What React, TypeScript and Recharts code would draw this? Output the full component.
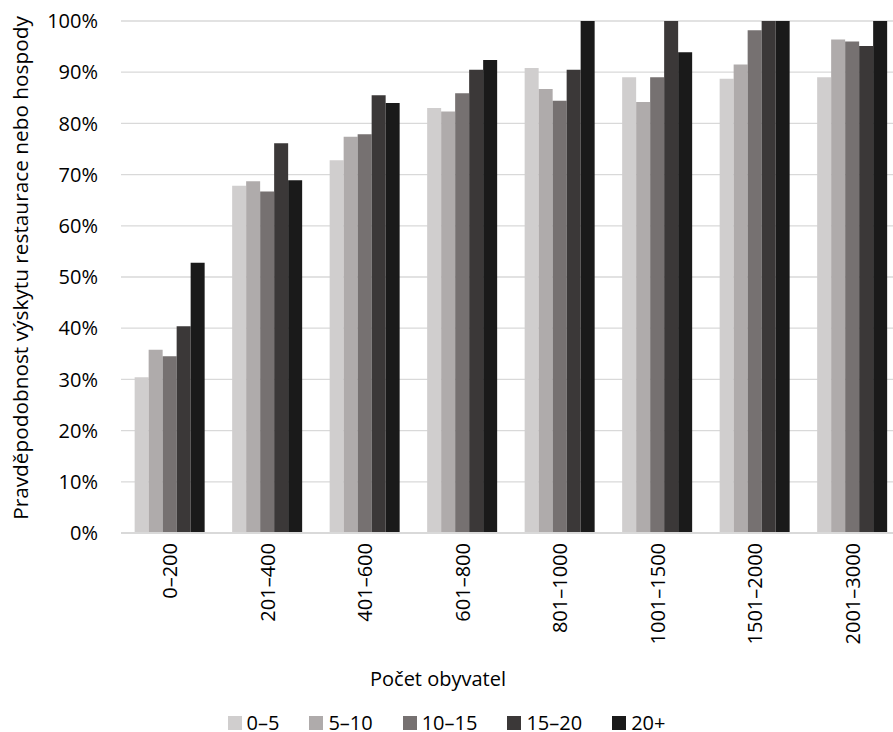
import { BarChart, Bar, XAxis, YAxis, CartesianGrid, Legend, Label } from 'recharts';

const categories = ['0–200', '201–400', '401–600', '601–800', '801–1000', '1001–1500', '1501–2000', '2001–3000'];
const seriesNames = ['0–5', '5–10', '10–15', '15–20', '20+'];

const v0to5 = [30.4, 67.8, 72.8, 83.0, 90.8, 89.0, 88.7, 89.0];
const v5to10 = [35.8, 68.7, 77.4, 82.3, 86.7, 84.2, 91.5, 96.4];
const v10to15 = [34.5, 66.7, 77.9, 85.9, 84.4, 89.0, 98.2, 96.0];
const v15to20 = [40.4, 76.1, 85.5, 90.5, 90.5, 100, 100, 95.1];
const v20plus = [52.8, 68.9, 84.0, 92.4, 100, 93.9, 100, 100];

const yTicks = [0, 10, 20, 30, 40, 50, 60, 70, 80, 90, 100];

const COLORS = ['#D0CECE', '#AFABAB', '#767171', '#3B3838', '#1A1A1A'];
const KEYS = ['a', 'b', 'c', 'd', 'e'];

const data = categories.map((name, i) => ({
  name,
  a: v0to5[i],
  b: v5to10[i],
  c: v10to15[i],
  d: v15to20[i],
  e: v20plus[i],
}));

const FONT = 20;

function XTick({ x, y, payload }: any) {
  return (
    <text
      x={0}
      y={0}
      transform={`translate(${x},${y + 2}) rotate(-90)`}
      textAnchor="end"
      dominantBaseline="central"
      fill="#000"
      fontSize={FONT}
    >
      {payload.value}
    </text>
  );
}

function LegendBox() {
  return (
    <div
      style={{
        height: 40,
        display: 'flex',
        justifyContent: 'center',
        alignItems: 'center',
        gap: 30,
        fontSize: FONT,
        color: '#000',
      }}
    >
      {seriesNames.map((n, i) => (
        <div key={n} style={{ display: 'flex', alignItems: 'center', height: 24 }}>
          <span style={{ width: 14, height: 14, background: COLORS[i], marginRight: 5, display: 'inline-block' }} />
          <span style={{ lineHeight: '24px' }}>{n}</span>
        </div>
      ))}
    </div>
  );
}

export default function App() {
  return (
    <div
      style={{
        position: 'absolute',
        left: 0,
        top: 0,
        width: 893,
        height: 732,
        overflow: 'hidden',
        fontFamily: '"Open Sans", sans-serif',
        background: '#fff',
      }}
    >
      <BarChart
        width={901}
        height={732}
        data={data}
        margin={{ top: 21, right: 0, left: 0, bottom: 0 }}
        barCategoryGap="14%"
        barGap={0}
      >
        <CartesianGrid vertical={false} stroke="#D9D9D9" strokeWidth={1.3} />
        <XAxis
          dataKey="name"
          height={159}
          tickLine={false}
          axisLine={{ stroke: '#D9D9D9', strokeWidth: 2 }}
          tick={<XTick />}
          interval={0}
        >
          <Label
            content={() => (
              <text x={438} y={678} textAnchor="middle" dominantBaseline="central" fontSize={FONT} fill="#000">
                Počet obyvatel
              </text>
            )}
          />
        </XAxis>
        <YAxis
          width={121}
          domain={[0, 100]}
          ticks={yTicks}
          tickFormatter={(v: number) => `${v}%`}
          axisLine={false}
          tickLine={false}
          tickMargin={17}
          tick={{ fill: '#000', fontSize: FONT }}
        >
          <Label
            content={() => (
              <text
                x={0}
                y={0}
                transform="translate(20,268) rotate(-90)"
                textAnchor="middle"
                dominantBaseline="central"
                fontSize={20.8}
                fill="#000"
              >
                Pravděpodobnost výskytu restaurace nebo hospody
              </text>
            )}
          />
        </YAxis>
        <Legend
          verticalAlign="bottom"
          height={40}
          wrapperStyle={{ left: 0, width: 893, top: 703, bottom: 'auto', height: 40 }}
          content={() => <LegendBox />}
        />
        {KEYS.map((k, i) => (
          <Bar key={k} dataKey={k} name={seriesNames[i]} fill={COLORS[i]} isAnimationActive={false} />
        ))}
      </BarChart>
    </div>
  );
}
